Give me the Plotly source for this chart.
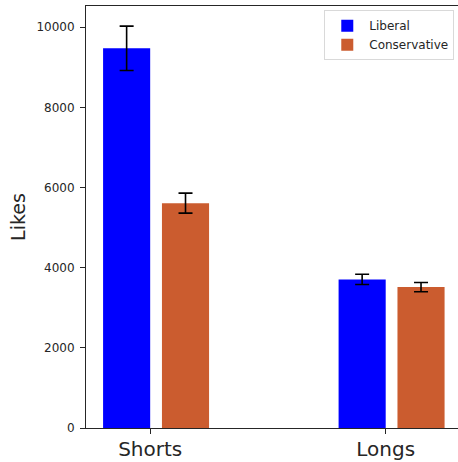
import plotly.graph_objects as go

categories = ["Shorts", "Longs"]
liberal_likes = [9475, 3708]
liberal_err = [553, 128]
conservative_likes = [5611, 3516]
conservative_err = [250, 116]
y_ticks = [0, 2000, 4000, 6000, 8000, 10000]

xpos = list(range(len(categories)))

fig = go.Figure()
fig.add_trace(go.Bar(
    x=xpos, y=liberal_likes, name="Liberal",
    offset=-0.2, width=0.2,
    marker=dict(color="#0000FF", line=dict(width=0)),
    error_y=dict(type="data", array=liberal_err, color="black", thickness=1.6, width=7),
))
fig.add_trace(go.Bar(
    x=xpos, y=conservative_likes, name="Conservative",
    offset=0.05, width=0.2,
    marker=dict(color="#CB5C2F", line=dict(width=0)),
    error_y=dict(type="data", array=conservative_err, color="black", thickness=1.6, width=7),
))

fig.update_layout(
    width=458, height=462,
    margin=dict(l=86, r=0, t=6, b=34),
    paper_bgcolor="white", plot_bgcolor="white",
    barmode="overlay",
    font=dict(family="DejaVu Sans", color="#262626"),
    showlegend=True,
    legend=dict(
        x=0.99, y=0.99, xanchor="right", yanchor="top",
        bgcolor="rgba(255,255,255,0.8)", bordercolor="#d9d9d9", borderwidth=1,
        font=dict(size=12, family="DejaVu Sans", color="#262626"),
        itemwidth=34, tracegroupgap=2,
    ),
)
fig.update_xaxes(
    range=[-0.2725, 1.307],
    tickvals=xpos, ticktext=categories,
    tickfont=dict(size=20, family="DejaVu Sans", color="#262626"),
    ticklabelstandoff=-2,
    showline=True, linecolor="#262626", linewidth=1, mirror=True,
    ticks="outside", ticklen=5, tickcolor="#262626",
    showgrid=False, zeroline=False,
)
fig.update_yaxes(
    range=[0, 10530],
    tickvals=y_ticks, ticktext=[str(v) for v in y_ticks],
    tickfont=dict(size=12, family="DejaVu Sans", color="#262626"),
    ticklabelstandoff=3,
    title=dict(text="Likes", font=dict(size=19, family="DejaVu Sans", color="#262626"), standoff=5),
    showline=True, linecolor="#262626", linewidth=1,
    ticks="outside", ticklen=5, tickcolor="#262626",
    showgrid=False, zeroline=False,
)

fig.write_html(
    "out.html",
    config={"displayModeBar": False},
    post_script="document.body.style.margin='0px';document.body.style.overflow='hidden';",
)
